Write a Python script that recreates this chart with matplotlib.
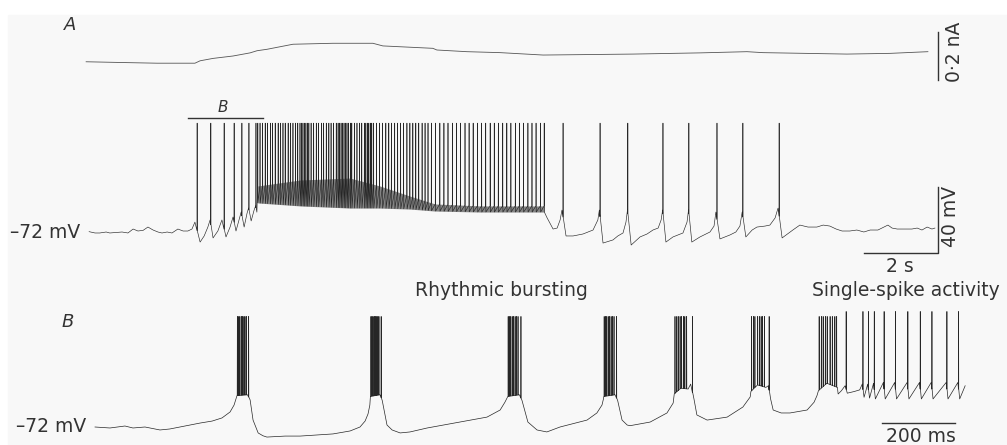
#!/usr/bin/env python3
"""Membrane potential traces: slow current ramp (A) and expanded burst phase (B)."""

import matplotlib

matplotlib.use("Agg")
import matplotlib.pyplot as plt
import numpy as np

# ---------------------------------------------------------------- panel A
# injected current (s, nA)
current_t = [-0.78, 0.14, 1.14, 2.16, 2.30, 2.65, 3.19, 3.65, 3.84, 4.11, 4.81,
             5.89, 6.97, 7.24, 8.59, 8.70, 9.51, 10.41, 11.57, 14.00, 15.81,
             17.08, 17.51, 19.78, 20.95, 21.97]
current_na = [0.001, -0.002, -0.005, -0.005, 0.005, 0.015, 0.025, 0.038, 0.047,
              0.053, 0.074, 0.078, 0.078, 0.067, 0.057, 0.050, 0.043, 0.039,
              0.029, 0.033, 0.038, 0.043, 0.039, 0.033, 0.036, 0.043]

# subthreshold membrane potential (s, mV)
a_wave_t = [-0.70, -0.54, -0.41, -0.24, -0.14, 0.03, 0.19, 0.35, 0.49, 0.62,
            0.76, 0.89, 1.03, 1.16, 1.27, 1.41, 1.54, 1.70, 1.84, 1.97, 2.08,
            2.16,
            2.30, 2.41, 2.51, 2.57, 2.65, 2.78, 2.89, 3.00, 3.11, 3.19, 3.27,
            3.35, 3.41, 3.49, 3.57, 3.61, 3.68, 3.76, 3.80, 3.835,
            11.68, 11.84, 11.95, 12.03, 12.08,
            12.19, 12.38, 12.65, 12.92, 13.05, 13.09,
            13.19, 13.46, 13.59, 13.73, 13.81, 13.85,
            13.95, 14.19, 14.38, 14.54, 14.68, 14.76, 14.80,
            14.89, 15.08, 15.35, 15.46, 15.50,
            15.59, 15.81, 16.08, 16.19, 16.24,
            16.35, 16.62, 16.78, 16.89, 16.95,
            17.05, 17.22, 17.35, 17.57, 17.70, 17.84, 17.92,
            18.03, 18.32, 18.51, 18.73, 18.97, 19.14, 19.32, 19.49, 19.65,
            19.86, 20.05, 20.24, 20.41, 20.62, 20.78, 20.89, 21.00, 21.14,
            21.35, 21.54, 21.68, 21.81, 21.95, 22.08, 22.16]
a_wave_mv = [-71.8, -72.6, -72.6, -72.0, -72.6, -72.3, -72.0, -72.6, -70.2, -71.4,
             -71.0, -69.0, -70.8, -72.0, -72.6, -72.0, -72.6, -70.2, -71.4, -71.4,
             -70.2, -66.0,
             -78.1, -74.4, -69.0, -64.7, -75.6, -71.4, -64.7, -75.0, -69.0, -62.9,
             -71.4, -64.7, -59.9, -69.0, -60.5, -57.5, -65.3, -58.7, -56.2, -60.0,
             -63.5, -70.2, -69.6, -64.7, -58.7,
             -74.4, -74.4, -73.2, -70.8, -64.7, -58.7,
             -78.7, -76.8, -74.4, -72.6, -66.0, -58.7,
             -79.9, -75.0, -73.2, -70.8, -69.6, -64.7, -58.7,
             -78.1, -75.0, -72.6, -66.0, -58.7,
             -78.1, -75.0, -72.0, -68.4, -59.9,
             -76.2, -73.8, -72.0, -68.4, -59.9,
             -75.0, -70.8, -69.0, -68.4, -67.8, -63.5, -57.5,
             -75.6, -70.8, -67.8, -69.0, -69.0, -67.8, -68.4, -70.2, -71.4,
             -71.4, -70.8, -72.0, -70.8, -70.8, -69.0, -67.8, -69.6, -70.2,
             -70.2, -70.2, -69.6, -70.8, -69.0, -70.2, -69.6]

# spike times (s)
a_onset_spikes = [2.22, 2.59, 2.95, 3.22, 3.43, 3.62, 3.81]
a_tonic_spikes = [
    3.86, 3.92, 3.99, 4.06, 4.12, 4.20, 4.26, 4.33, 4.41, 4.47, 4.54, 4.60,
    4.68, 4.74, 4.81, 4.88, 4.94,
    5.00, 5.04, 5.08, 5.12, 5.16, 5.20, 5.24,
    5.30, 5.37, 5.44, 5.50, 5.58, 5.64, 5.71, 5.78, 5.84, 5.91, 5.98,
    6.03, 6.07, 6.11, 6.15, 6.19, 6.23, 6.27, 6.31, 6.36,
    6.40, 6.47, 6.54, 6.61, 6.67, 6.74,
    6.78, 6.82, 6.86, 6.90, 6.94,
    6.99, 7.07, 7.15, 7.23, 7.32, 7.40, 7.47, 7.56, 7.64, 7.72, 7.80, 7.89,
    7.97, 8.05, 8.13, 8.21, 8.30, 8.38, 8.46,
    8.55, 8.66, 8.78, 8.89, 9.00, 9.12, 9.23, 9.34, 9.46, 9.57, 9.68, 9.80,
    9.91, 10.02, 10.14, 10.25, 10.36, 10.48, 10.59, 10.70, 10.82, 10.93,
    11.04, 11.16, 11.27, 11.38, 11.50, 11.60,
]
a_slow_spikes = [12.11, 13.11, 13.86, 14.81, 15.51, 16.27, 16.97, 17.95]
a_peak_mv = -6.0

# range of interspike potential during tonic firing (s, mV)
a_band_t = [3.86, 5.00, 6.35, 7.16, 7.97, 8.65, 9.86, 11.60]
a_band_floor = [-54.4, -56.2, -57.5, -57.5, -58.1, -59.3, -59.9, -59.9]
a_band_ceil = [-44.1, -40.5, -39.3, -44.1, -50.2, -55.0, -56.2, -56.2]

b_window_s = [1.97, 4.00]

# ---------------------------------------------------------------- panel B
b_wave_ms = [0, 41, 82, 104, 137, 178, 205, 247, 288, 321, 348, 370, 381, 387,
             389, 418,
             425, 433, 447, 460, 471, 521, 562, 652, 699, 726, 740, 748, 753,
             754.5, 781,
             787, 800, 814, 836, 863, 910, 1000, 1074, 1110, 1123, 1129,
             1131, 1163,
             1170, 1186, 1211, 1238, 1274, 1348, 1375, 1389, 1393,
             1394, 1425,
             1432, 1444, 1458, 1466, 1521, 1567, 1584,
             1587, 1605, 1625, 1632,
             1641, 1649, 1677, 1732, 1775, 1795,
             1797, 1815, 1838, 1845,
             1851, 1858, 1880, 1904, 1951, 1970, 1978,
             1982, 2005, 2034,
             2036, 2045, 2055, 2061, 2080, 2095, 2102, 2107, 2117, 2122, 2133,
             2138, 2160, 2165, 2191, 2196, 2225, 2230, 2259, 2264, 2291, 2296,
             2332, 2337, 2364, 2369, 2384]
b_wave_mv = [-72.0, -72.6, -71.4, -72.6, -72.0, -73.8, -73.2, -71.4, -69.6, -68.4,
             -66.5, -62.9, -58.7, -54.4,
             -53.0, -52.5,
             -55.6, -67.8, -75.6, -77.3, -78.1, -77.5, -77.5, -76.2, -74.4, -72.0,
             -68.4, -64.1, -58.7,
             -53.5, -52.5,
             -56.0, -70.8, -73.8, -75.6, -75.0, -72.6, -69.0, -66.0, -61.7, -57.0,
             -54.4,
             -53.5, -52.5,
             -56.0, -69.0, -73.8, -75.0, -72.0, -67.8, -63.5, -58.7, -55.0,
             -53.5, -52.5,
             -56.0, -67.8, -70.8, -71.2, -69.0, -63.5, -57.5,
             -52.0, -48.5, -49.0, -46.0,
             -55.0, -64.7, -67.8, -66.0, -59.9, -53.8,
             -50.5, -46.5, -48.0, -47.0,
             -55.0, -61.7, -63.5, -63.5, -61.7, -57.0, -53.0,
             -50.0, -45.5, -48.0,
             -52.0, -50.0, -47.0, -51.5, -50.5, -49.5, -46.0, -54.0, -46.0, -54.5,
             -45.5, -55.0, -45.0, -55.0, -45.0, -55.0, -45.0, -55.0, -45.0, -55.0,
             -45.0, -55.0, -45.0, -55.0, -45.0, -55.0, -47.0]

# spike times (ms)
b_burst_spikes = [
    390, 394, 397, 401, 404, 408, 411, 415, 421,
    756, 759, 762, 766, 769, 772, 775, 778, 784,
    1132, 1135, 1139, 1143, 1147, 1151, 1155, 1159, 1167,
    1395, 1399, 1402, 1406, 1410, 1414, 1418, 1422, 1429,
    1589, 1594, 1598, 1603, 1607, 1612, 1616, 1621, 1637,
    1799, 1804, 1808, 1815, 1820, 1825, 1829, 1834, 1847,
    1984, 1990, 1995, 2001, 2006, 2014, 2020, 2027, 2032,
]
b_single_spikes = [2058, 2104, 2119, 2135, 2162, 2193, 2227, 2261, 2293,
                   2334, 2366]
b_burst_peak_mv = -5.0
b_single_peak_mv = -2.0

FIG_W, FIG_H = 1007, 445
INK = "#262626"
TEXT = "#333333"


def build_trace(wave_t, wave_v, spikes, peaks, half_width, band=None):
    """Merge subthreshold waypoints with near-vertical spikes into one polyline."""
    wave_t = np.asarray(wave_t, dtype=float)
    wave_v = np.asarray(wave_v, dtype=float)
    points = list(zip(wave_t, wave_v))
    for ts, peak in zip(spikes, peaks):
        if band is not None and band[0][0] <= ts <= band[0][-1]:
            pre = np.interp(ts, band[0], band[2])
            post = np.interp(ts, band[0], band[1])
        else:
            pre = post = np.interp(ts, wave_t, wave_v)
        points += [(ts - half_width, pre), (ts, peak), (ts + half_width, post)]
    points.sort()
    t, v = np.array(points).T
    return t, v


def overlay(fig, x_px, x_val, x_ppu, y_px, y_val, y_ppu):
    """Full-figure axes whose scale places (x_val, y_val) at pixel (x_px, y_px)."""
    ax = fig.add_axes([0, 0, 1, 1], facecolor="none")
    ax.set_xlim(x_val - x_px / x_ppu, x_val + (FIG_W - x_px) / x_ppu)
    ax.set_ylim(y_val - (FIG_H - y_px) / y_ppu, y_val + y_px / y_ppu)
    ax.set_axis_off()
    return ax


def px(x, y):
    return x / FIG_W, 1 - y / FIG_H


def main() -> None:
    plt.rcParams["font.family"] = ["DejaVu Sans"]
    fig = plt.figure(figsize=(FIG_W / 100, FIG_H / 100), dpi=100)
    fig.patch.set_facecolor("white")
    fig.add_artist(plt.Rectangle(px(8, FIG_H), 1, 1 - 15 / FIG_H,
                                 transform=fig.transFigure, color="#f8f8f8",
                                 zorder=0))

    ax_i = overlay(fig, 115, 0.0, 37, 62, 0.0, 240)
    ax_a = overlay(fig, 115, 0.0, 37, 232, -72.0, 1.65)
    ax_b = overlay(fig, 95, 0.0, 0.365, 427, -72.0, 1.65)

    # current trace and its scale bar
    ax_i.plot(current_t, current_na, color="#555555", lw=0.6)
    ax_i.plot([22.24, 22.24], [-0.075, 0.125], color=TEXT, lw=1.0)

    # panel A voltage
    a_spikes = a_onset_spikes + a_tonic_spikes + a_slow_spikes
    t, v = build_trace(a_wave_t, a_wave_mv, a_spikes,
                       [a_peak_mv] * len(a_spikes), 0.004,
                       band=(a_band_t, a_band_floor, a_band_ceil))
    # smeared interspike trajectories during tonic firing
    ax_a.fill_between(a_band_t, a_band_floor, a_band_ceil, color=INK,
                      alpha=0.55, lw=0)
    ax_a.plot(t, v, color=INK, lw=0.45)
    ax_a.plot(b_window_s, [-3.1, -3.1], color=TEXT, lw=1.0)
    ax_a.plot([20.24, 22.24, 22.24], [-84.5, -84.5, -44.5], color=TEXT, lw=1.0)

    # panel B voltage
    b_spikes = b_burst_spikes + b_single_spikes
    b_peaks = ([b_burst_peak_mv] * len(b_burst_spikes)
               + [b_single_peak_mv] * len(b_single_spikes))
    t, v = build_trace(b_wave_ms, b_wave_mv, b_spikes, b_peaks, 0.4)
    ax_b.plot(t, v, color=INK, lw=0.5)
    ax_b.plot([2156, 2356], [-69.6, -69.6], color=TEXT, lw=1.0)

    # labels
    big = dict(color=TEXT, fontsize=13.5)
    fig.text(*px(70, 25), "A", style="italic", ha="center", va="center",
             color=TEXT, fontsize=13)
    fig.text(*px(68, 322), "B", style="italic", ha="center", va="center",
             color=TEXT, fontsize=13)
    fig.text(*px(223, 107), "B", style="italic", ha="center", va="center",
             color=TEXT, fontsize=11)
    fig.text(*px(80, 232), "\u201372 mV", ha="right", va="center", **big)
    fig.text(*px(86, 427), "\u201372 mV", ha="right", va="center", **big)
    fig.text(*px(954, 52), "0\u00b72 nA", rotation=90, ha="center",
             va="center", **big)
    fig.text(*px(951, 216), "40 mV", rotation=90, ha="center", va="center",
             **big)
    fig.text(*px(900, 267), "2 s", ha="center", va="center", **big)
    fig.text(*px(501, 291), "Rhythmic bursting", ha="center", va="center",
             **big)
    fig.text(*px(906, 291), "Single-spike activity", ha="center",
             va="center", **big)
    fig.text(*px(921, 436), "200 ms", ha="center", va="center", **big)

    fig.savefig("out.png", dpi=100, facecolor=fig.get_facecolor())
    plt.close(fig)


if __name__ == "__main__":
    main()
